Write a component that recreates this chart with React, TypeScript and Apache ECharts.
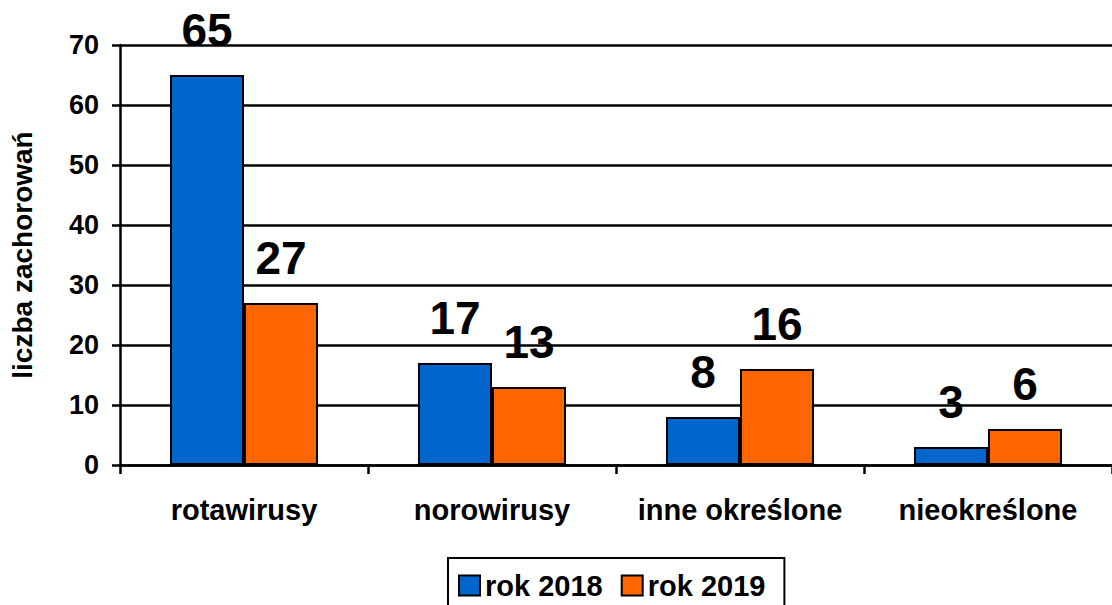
import React, { useEffect, useRef } from "react";
import * as echarts from "echarts";

const categories = ["rotawirusy", "norowirusy", "inne określone", "nieokreślone"];
const series2018 = [65, 17, 8, 3];
const series2019 = [27, 13, 16, 6];
const seriesNames = ["rok 2018", "rok 2019"];
const yAxisName = "liczba zachorowań";

const FONT = "'Liberation Sans', Arial, sans-serif";

export default function App() {
  const ref = useRef<HTMLDivElement>(null);
  useEffect(() => {
    if (!ref.current) return;
    const chart = echarts.init(ref.current, null, { renderer: "svg" });
    const label = {
      show: true,
      position: "top",
      distance: 22,
      fontSize: 46,
      fontWeight: "bold",
      color: "#000",
      fontFamily: FONT,
    };
    chart.setOption({
      animation: false,
      backgroundColor: "#fff",
      textStyle: { fontFamily: FONT },
      grid: { left: 110, right: -6, top: 45, bottom: 140, containLabel: false },
      legend: {
        data: seriesNames,
        top: 558,
        left: 448,
        padding: [13, 19, 20, 10],
        borderColor: "#000",
        borderWidth: 2,
        itemWidth: 21,
        itemHeight: 20,
        itemGap: 18,
        icon: "rect",
        itemStyle: { borderColor: "#000", borderWidth: 2 },
        textStyle: { fontSize: 29, fontWeight: "bold", color: "#000", fontFamily: FONT },
      },
      xAxis: {
        type: "category",
        data: categories,
        axisLine: { lineStyle: { color: "#000", width: 2.5 } },
        axisTick: { show: true, interval: 0, length: 9, lineStyle: { color: "#000", width: 2.5 } },
        axisLabel: { interval: 0, margin: 30, fontSize: 29, fontWeight: "bold", color: "#000", fontFamily: FONT },
      },
      yAxis: {
        type: "value",
        min: 0,
        max: 70,
        interval: 10,
        name: yAxisName,
        nameLocation: "middle",
        nameRotate: 90,
        nameGap: 84,
        nameTextStyle: { fontSize: 28, fontWeight: "bold", color: "#000", fontFamily: FONT },
        axisLine: { show: true, lineStyle: { color: "#000", width: 2.5 } },
        axisTick: { show: true, length: 8, lineStyle: { color: "#000", width: 2.5 } },
        axisLabel: { margin: 21, fontSize: 27, fontWeight: "bold", color: "#000", fontFamily: FONT },
        splitLine: { show: true, lineStyle: { color: "#000", width: 2.5 } },
      },
      series: [
        {
          name: seriesNames[0],
          type: "bar",
          data: series2018,
          barWidth: 74,
          barGap: "0%",
          itemStyle: { color: "#0066CC", borderColor: "#000", borderWidth: 2 },
          label,
        },
        {
          name: seriesNames[1],
          type: "bar",
          data: series2019,
          barWidth: 74,
          barGap: "0%",
          itemStyle: { color: "#FF6600", borderColor: "#000", borderWidth: 2 },
          label,
        },
      ],
    });
    return () => chart.dispose();
  }, []);
  return (
    <div
      ref={ref}
      style={{ position: "absolute", left: 0, top: 0, width: 1112, height: 605 }}
    />
  );
}
